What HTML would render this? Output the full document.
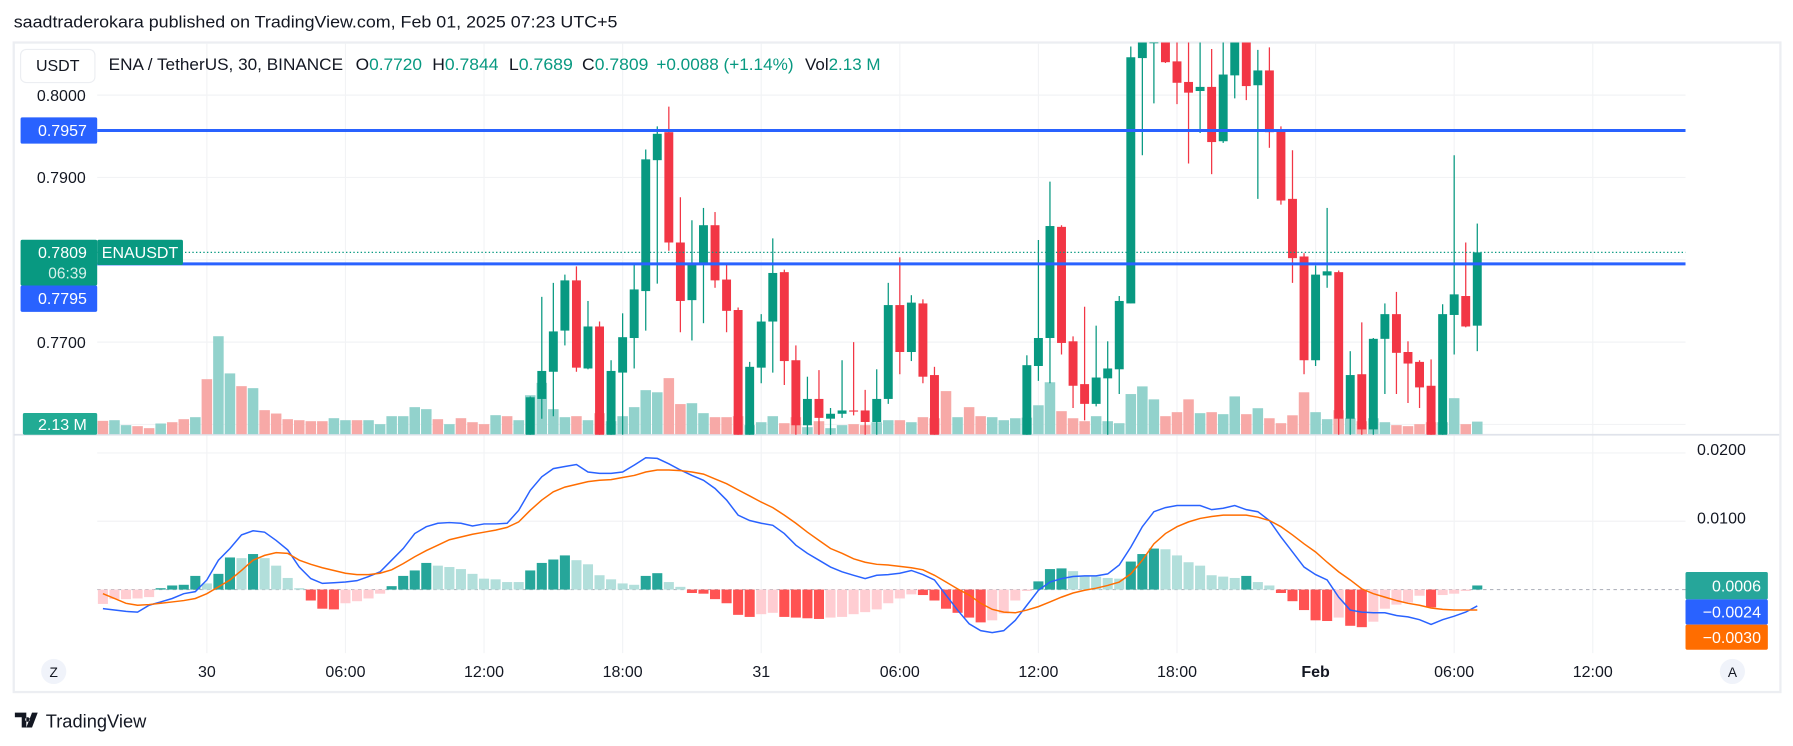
<!DOCTYPE html>
<html><head><meta charset="utf-8">
<style>
html,body{margin:0;padding:0;background:#fff;}
svg{display:block;font-family:"Liberation Sans",sans-serif;}
</style></head>
<body>
<svg id="chart" width="1793" height="746" viewBox="0 0 1568 652" xmlns="http://www.w3.org/2000/svg">
<text x="12" y="24" font-size="14.5" fill="#131722" textLength="528" lengthAdjust="spacingAndGlyphs">saadtraderokara published on TradingView.com, Feb 01, 2025 07:23 UTC+5</text>
<rect x="12" y="37" width="1545" height="568" fill="#fff" stroke="#eceef2" stroke-width="2"/>
<g id="grid"></g>
<line x1="12" y1="380" x2="1556" y2="380" stroke="#e0e3eb" stroke-width="1.5"/>
<defs>
<clipPath id="pclip"><rect x="85" y="37" width="1389" height="343"/></clipPath>
<clipPath id="mclip"><rect x="85" y="381" width="1389" height="190"/></clipPath>
</defs>
<g id="vol" clip-path="url(#pclip)"></g>
<g id="candles" clip-path="url(#pclip)"></g>
<g id="levels"></g>
<g id="macd" clip-path="url(#mclip)"></g>
<g id="labels"></g>
<rect x="18" y="43" width="65" height="29" rx="5" fill="#fff" stroke="#eceef2"/>
<text x="50.5" y="62" font-size="14" text-anchor="middle" fill="#131722">USDT</text>
<g font-size="14.5">
<text x="95" y="61" fill="#131722" textLength="205" lengthAdjust="spacingAndGlyphs">ENA / TetherUS, 30, BINANCE</text>
<text x="311" y="61" fill="#131722" textLength="58" lengthAdjust="spacingAndGlyphs">O<tspan fill="#089981">0.7720</tspan></text>
<text x="378" y="61" fill="#131722" textLength="58" lengthAdjust="spacingAndGlyphs">H<tspan fill="#089981">0.7844</tspan></text>
<text x="445" y="61" fill="#131722" textLength="56" lengthAdjust="spacingAndGlyphs">L<tspan fill="#089981">0.7689</tspan></text>
<text x="509" y="61" fill="#131722" textLength="58" lengthAdjust="spacingAndGlyphs">C<tspan fill="#089981">0.7809</tspan></text>
<text x="574" y="61" fill="#089981" textLength="120" lengthAdjust="spacingAndGlyphs">+0.0088 (+1.14%)</text>
<text x="704" y="61" fill="#131722" textLength="66" lengthAdjust="spacingAndGlyphs">Vol<tspan fill="#089981">2.13 M</tspan></text>
</g>
<circle cx="47" cy="587" r="11" fill="#f0f3fa"/>
<text x="47" y="592" font-size="12" text-anchor="middle" fill="#131722">Z</text>
<circle cx="1515" cy="587" r="11" fill="#f0f3fa"/>
<text x="1515" y="592" font-size="12" text-anchor="middle" fill="#131722">A</text>
<g>
<path d="M13 623h10v13h-4v-9h-6z M24 627a2 2 0 1 0 0.1 0z M28 623h5l-5 13h-5z" fill="#131722"/>
<text x="40" y="636" font-size="16" fill="#131722">TradingView</text>
</g>
</svg>
<script>
// ---- price data (30m candles) ----
const opens=[0.7530,0.7510,0.7520,0.7525,0.7518,0.7512,0.7522,0.7515,0.7505,0.7515,0.7480,0.7540,0.7555,0.7530,0.7550,0.7535,0.7525,0.7515,0.7508,0.7502,0.7498,0.7505,0.7510,0.7505,0.7512,0.7518,0.7528,0.7538,0.7550,0.7558,0.7550,0.7555,0.7548,0.7543,0.7540,0.7552,0.7548,
0.7580,0.7631,0.7664,0.7714,0.7775,0.7668,0.7719,0.7570,0.7663,0.7705,0.7762,0.7921,0.7955,0.7821,0.7751,0.7795,0.7842,0.7776,0.7739,0.7565,0.7669,0.7725,0.7785,0.7678,0.7599,0.7631,0.7607,0.7613,0.7617,0.7617,0.7603,0.7631,0.7745,0.7688,0.7747,0.7660,0.7550,0.7520,0.7535,0.7515,0.7505,0.7520,0.7535,0.7560,0.7671,0.7705,0.7840,0.7701,0.7649,0.7625,0.7656,0.7667,0.7747,0.8045,0.8063,0.8080,0.8041,0.8016,0.8005,0.8010,0.7944,0.8024,0.8075,0.8012,0.8030,0.7957,0.7874,0.7804,0.7678,0.7781,0.7785,0.7607,0.7661,0.7594,0.7704,0.7734,0.7688,0.7676,0.7647,0.7578,0.7733,0.7756,0.7720];
const closes=[0.7510,0.7520,0.7525,0.7518,0.7512,0.7522,0.7515,0.7505,0.7515,0.7480,0.7540,0.7555,0.7530,0.7550,0.7535,0.7525,0.7515,0.7508,0.7502,0.7498,0.7505,0.7510,0.7505,0.7512,0.7518,0.7528,0.7538,0.7550,0.7558,0.7550,0.7555,0.7548,0.7543,0.7540,0.7552,0.7548,0.7560,
0.7633,0.7665,0.7713,0.7775,0.7669,0.7719,0.7575,0.7665,0.7706,0.7764,0.7922,0.7953,0.7821,0.7750,0.7796,0.7842,0.7775,0.7738,0.7560,0.7670,0.7725,0.7784,0.7677,0.7599,0.7631,0.7608,0.7613,0.7617,0.7616,0.7603,0.7631,0.7745,0.7688,0.7748,0.7658,0.7550,0.7520,0.7535,0.7515,0.7505,0.7520,0.7535,0.7555,0.7672,0.7705,0.7841,0.7699,0.7647,0.7625,0.7657,0.7668,0.7750,0.8046,0.8064,0.8068,0.8040,0.8015,0.8003,0.8010,0.7943,0.8025,0.8075,0.8011,0.8030,0.7955,0.7872,0.7802,0.7678,0.7782,0.7786,0.7607,0.7660,0.7594,0.7704,0.7734,0.7687,0.7674,0.7645,0.7575,0.7734,0.7758,0.7719,0.7809];
const highs=[0.7538,0.7522,0.7532,0.7533,0.7526,0.7530,0.7530,0.7523,0.7523,0.7523,0.7548,0.7563,0.7563,0.7558,0.7558,0.7543,0.7533,0.7523,0.7516,0.7510,0.7513,0.7518,0.7518,0.7520,0.7526,0.7536,0.7546,0.7558,0.7566,0.7566,0.7563,0.7563,0.7556,0.7551,0.7560,0.7560,0.7568,
0.7634,0.7755,0.7772,0.7782,0.7792,0.7750,0.7725,0.7678,0.7735,0.7794,0.7934,0.7962,0.7986,0.7876,0.7848,0.7863,0.7858,0.7795,0.7742,0.7676,0.7734,0.7826,0.7788,0.7696,0.7658,0.7666,0.7620,0.7678,0.7700,0.7642,0.7667,0.7772,0.7803,0.7757,0.7752,0.7670,0.7558,0.7543,0.7543,0.7523,0.7528,0.7543,0.7563,0.7684,0.7824,0.7895,0.7842,0.7707,0.7743,0.7720,0.7701,0.7756,0.8059,0.8070,0.8075,0.8085,0.8080,0.8080,0.8075,0.8056,0.8070,0.8085,0.8085,0.8055,0.8058,0.7962,0.7933,0.7808,0.7793,0.7863,0.7787,0.7689,0.7724,0.7705,0.7747,0.7761,0.7701,0.7678,0.7679,0.7746,0.7927,0.7821,0.7844];
const lows=[0.7500,0.7500,0.7510,0.7508,0.7502,0.7502,0.7505,0.7495,0.7495,0.7470,0.7470,0.7530,0.7520,0.7520,0.7525,0.7515,0.7505,0.7498,0.7492,0.7488,0.7488,0.7495,0.7495,0.7495,0.7502,0.7508,0.7518,0.7528,0.7540,0.7540,0.7540,0.7538,0.7533,0.7530,0.7530,0.7538,0.7538,
0.7575,0.7607,0.7610,0.7696,0.7664,0.7667,0.7560,0.7560,0.7585,0.7668,0.7714,0.7771,0.7811,0.7712,0.7702,0.7723,0.7766,0.7712,0.7550,0.7550,0.7650,0.7663,0.7648,0.7580,0.7580,0.7580,0.7580,0.7608,0.7611,0.7580,0.7580,0.7625,0.7661,0.7677,0.7650,0.7540,0.7510,0.7510,0.7505,0.7495,0.7495,0.7510,0.7525,0.7550,0.7653,0.7650,0.7685,0.7620,0.7605,0.7622,0.7580,0.7637,0.7747,0.7927,0.7990,0.8039,0.7989,0.7917,0.7954,0.7904,0.7942,0.7996,0.7994,0.7874,0.7936,0.7867,0.7772,0.7661,0.7671,0.7766,0.7580,0.7580,0.7580,0.7580,0.7637,0.7637,0.7626,0.7620,0.7570,0.7575,0.7685,0.7718,0.7689];
const volumes=[2.26,2.37,1.53,1.36,1.02,1.81,2.03,2.54,2.88,9.32,16.6,10.3,8.14,7.8,4.07,3.5,2.54,2.37,2.2,2.2,2.71,2.37,2.37,2.37,1.7,3.05,3.05,4.58,4.24,2.54,1.7,2.71,2.03,1.7,3.22,3.05,2.37,6.6,8.7,4.24,2.88,3.05,2.37,3.56,2.2,3.05,4.58,7.46,7.1,9.5,5.1,5.25,3.56,2.88,2.88,3.05,1.53,2.03,3.05,1.86,2.88,1.19,2.2,1.02,1.53,1.7,1.53,2.03,2.37,2.37,2.03,2.88,2.7,7.3,2.88,4.58,3.05,2.88,2.37,2.7,2.8,4.9,8.8,3.9,2.7,2.2,3.05,2.2,1.86,6.8,8.1,5.9,3.05,3.73,5.9,3.56,3.73,3.39,6.4,3.39,4.4,2.7,1.86,3.2,7.1,3.73,2.54,4.07,2.7,2.2,2.7,2.03,1.53,1.36,1.7,2.03,2.03,6.1,1.7,2.13];
// ---- MACD data ----
const histValues=[-0.0021,-0.0014,-0.0014,-0.0013,-0.0011,0.0002,0.0006,0.0007,0.0020,0.0009,
0.0023,0.0047,0.0046,0.0052,0.0046,0.0035,0.0017,0.0002,-0.0016,-0.0028,
-0.0029,-0.0020,-0.0017,-0.0013,-0.0006,0.0005,0.0020,0.0028,0.0039,0.0035,
0.0033,0.0030,0.0023,0.0016,0.0015,0.0011,0.0011,0.0028,0.0039,0.0044,
0.0050,0.0043,0.0037,0.0021,0.0015,0.0009,0.0007,0.0020,0.0024,0.0011,
0.0004,-0.0005,-0.0006,-0.0014,-0.0020,-0.0037,-0.0040,-0.0036,-0.0034,-0.0040,
-0.0041,-0.0042,-0.0043,-0.0041,-0.0040,-0.0036,-0.0033,-0.0029,-0.0020,-0.0013,
-0.0007,-0.0008,-0.0016,-0.0028,-0.0034,-0.0041,-0.0048,-0.0045,-0.0035,-0.0016,
-0.0002,0.0012,0.0030,0.0031,0.0027,0.0020,0.0019,0.0017,0.0016,0.0041,
0.0052,0.0060,0.0059,0.0050,0.0040,0.0035,0.0021,0.0019,0.0017,0.0020,
0.0011,0.0006,-0.0005,-0.0017,-0.0030,-0.0045,-0.0046,-0.0041,-0.0053,-0.0055,
-0.0047,-0.0028,-0.0022,-0.0019,-0.0009,-0.0026,-0.0008,-0.0006,-0.0002,0.0006];
const macdValues=[-0.0028,-0.0030,-0.0032,-0.0033,-0.0023,-0.0018,-0.0013,-0.0006,-0.0003,0.0014,
0.0043,0.0060,0.0080,0.0086,0.0084,0.0072,0.0058,0.0033,0.0016,0.0009,
0.0010,0.0011,0.0013,0.0019,0.0026,0.0043,0.0060,0.0082,0.0092,0.0097,
0.0098,0.0097,0.0093,0.0096,0.0096,0.0097,0.0116,0.0145,0.0165,0.0177,
0.0180,0.0183,0.0172,0.0170,0.0170,0.0172,0.0182,0.0193,0.0192,0.0184,
0.0175,0.0167,0.0160,0.0148,0.0131,0.0109,0.0101,0.0097,0.0094,0.0082,
0.0065,0.0053,0.0043,0.0033,0.0026,0.0021,0.0016,0.0021,0.0022,0.0024,
0.0028,0.0022,0.0014,-0.0008,-0.0030,-0.0050,-0.0060,-0.0063,-0.0060,-0.0045,
-0.0023,-0.0001,0.0011,0.0016,0.0019,0.0020,0.0020,0.0023,0.0036,0.0062,
0.0092,0.0114,0.0120,0.0123,0.0123,0.0123,0.0117,0.0119,0.0123,0.0117,
0.0114,0.0101,0.0077,0.0055,0.0033,0.0022,0.0014,-0.0011,-0.0030,-0.0033,
-0.0034,-0.0034,-0.0038,-0.0040,-0.0044,-0.0051,-0.0044,-0.0039,-0.0033,-0.0024];
const signalValues=[-0.0006,-0.0013,-0.0020,-0.0023,-0.0022,-0.0020,-0.0018,-0.0016,-0.0013,-0.0006,
0.0004,0.0014,0.0028,0.0043,0.0050,0.0054,0.0053,0.0043,0.0037,0.0032,
0.0028,0.0024,0.0022,0.0022,0.0024,0.0029,0.0038,0.0048,0.0057,0.0065,
0.0073,0.0077,0.0081,0.0084,0.0087,0.0091,0.0099,0.0116,0.0131,0.0143,
0.0150,0.0154,0.0158,0.0160,0.0161,0.0164,0.0167,0.0172,0.0175,0.0175,
0.0174,0.0172,0.0169,0.0162,0.0155,0.0146,0.0137,0.0128,0.0120,0.0109,
0.0097,0.0084,0.0072,0.0060,0.0053,0.0045,0.0040,0.0037,0.0036,0.0034,
0.0032,0.0029,0.0021,0.0011,0.0001,-0.0008,-0.0020,-0.0029,-0.0033,-0.0034,
-0.0030,-0.0025,-0.0018,-0.0011,-0.0005,-0.0001,0.0002,0.0006,0.0011,0.0023,
0.0043,0.0067,0.0082,0.0092,0.0099,0.0104,0.0107,0.0109,0.0109,0.0109,
0.0106,0.0101,0.0092,0.0080,0.0067,0.0055,0.0040,0.0026,0.0014,0.0001,
-0.0006,-0.0011,-0.0016,-0.0020,-0.0023,-0.0027,-0.0029,-0.0030,-0.0030,-0.0030];
// ---- axis ticks ----
const priceTicks=[0.8000,0.7900,0.7800,0.7700,0.7600];
const priceTickLabels=["0.8000","0.7900","","0.7700",""];
const macdTicks=[0.0200,0.0100];
const macdTickLabels=["0.0200","0.0100"];
const timeTickIndex=[9,21,33,45,57,69,81,93,105,117,129];
const timeTickLabels=["30","06:00","12:00","18:00","31","06:00","12:00","18:00","Feb","06:00","12:00"];
const levelPrices=[0.7957,0.7795];
const levelLabels=["0.7957","0.7795"];

const NS="http://www.w3.org/2000/svg";
const xOf=i=>90+i*10.1;
const yP=p=>83+(0.8-p)*7200;
const yV=v=>379.5-v*5.16;
const yM=v=>515.4-v*5976;
function mk(tag,attrs,parent){const e=document.createElementNS(NS,tag);for(const k in attrs)e.setAttribute(k,attrs[k]);parent.appendChild(e);return e;}
const G=id=>document.getElementById(id);

const grid=G('grid');
timeTickIndex.forEach((ti,k)=>{
  const x=xOf(ti);
  const l=mk('line',{x1:x,y1:38,x2:x,y2:571,stroke:'#f2f3f5','stroke-width':1},grid);
  
  
  const t=mk('text',{x:x,y:592,'font-size':14,'text-anchor':'middle',fill:'#131722','font-weight':timeTickLabels[k]==='Feb'?'bold':'normal'},G('labels'));
  t.textContent=timeTickLabels[k];
  
  
});
priceTicks.forEach((p,k)=>{
  const y=yP(p);
  const l=mk('line',{x1:85,y1:y,x2:1474,y2:y,stroke:'#f2f3f5','stroke-width':1},grid);
  
  
  if(priceTickLabels[k]){
    const t=mk('text',{x:75,y:y+5,'font-size':14,'text-anchor':'end',fill:'#131722'},G('labels'));
    t.textContent=priceTickLabels[k];
    
    
  }
});
macdTicks.forEach((v,k)=>{
  const y=yM(v);
  const l=mk('line',{x1:85,y1:y,x2:1474,y2:y,stroke:'#f2f3f5','stroke-width':1},grid);
  
  
  const t=mk('text',{x:1484,y:y+2,'font-size':14,fill:'#131722'},G('labels'));
  t.textContent=macdTickLabels[k];
  
  
});

const vg=G('vol');
volumes.forEach((v,i)=>{
  const up=closes[i]>=opens[i];
  const r=mk('rect',{x:xOf(i)-4.6,y:yV(v),width:9.2,height:379.5-yV(v),fill:up?'#92d2cc':'#f7a9a7'},vg);
  
  
});
const cg=G('candles');
opens.forEach((o,i)=>{
  const c=closes[i],up=c>=o,col=up?'#089981':'#f23645',x=xOf(i);
  const w=mk('line',{x1:x,y1:yP(highs[i]),x2:x,y2:yP(lows[i]),stroke:col,'stroke-width':1.1},cg);
  
  
  const top=yP(Math.max(o,c)),bot=yP(Math.min(o,c));
  const b=mk('rect',{x:x-3.9,y:top,width:7.8,height:Math.max(1,bot-top),fill:col},cg);
  
  
});
const lg=G('levels');
const lastY=yP(closes[closes.length-1]);
const dl=mk('line',{x1:85,y1:lastY,x2:1474,y2:lastY,stroke:'#089981','stroke-width':1,'stroke-dasharray':'1.2,2'},lg);


levelPrices.forEach((p,k)=>{
  const y=yP(p);
  const l=mk('line',{x1:85,y1:y,x2:1474,y2:y,stroke:'#2962ff','stroke-width':2.6},lg);
  
  
});
function box(x,y,w,h,fill,name){const r=mk('rect',{x:x,y:y,width:w,height:h,fill:fill,rx:1.5},G('labels'));return r;}
function txt(x,y,s,str,name,anchor,col){const t=mk('text',{x:x,y:y,'font-size':s,fill:col||'#fff','text-anchor':anchor||'end'},G('labels'));t.textContent=str;return t;}
box(18,yP(levelPrices[0])-11.5,67,23,'#2962ff','level-price-tag');
txt(76,yP(levelPrices[0])+5,14,levelLabels[0],'level-price-text');
box(18,lastY-11,67,40,'#089981','last-price-tag');
txt(76,lastY+5,14,'0.7809','last-price-text');
txt(76,lastY+23,13.5,'06:39','countdown-text',null,'#d6f0ea');
box(85,lastY-11,75,22,'#089981','symbol-tag');
txt(89,lastY+5,14,'ENAUSDT','symbol-tag-text','start');
box(18,lastY+29,67,23,'#2962ff','level-price-tag-2');
txt(76,lastY+45,14,levelLabels[1],'level-price-text-2');
box(20,361,65,19,'#22ab94','volume-tag');
txt(76,376,14,'2.13 M','volume-tag-text');

const mg=G('macd');
const z=mk('line',{x1:85,y1:yM(0),x2:1474,y2:yM(0),stroke:'#b2b5be','stroke-width':1,'stroke-dasharray':'3,3'},mg);


histValues.forEach((v,i)=>{
  const prev=i>0?histValues[i-1]:v;
  let col;
  if(v>=0)col=v>prev?'#26a69a':'#b2dfdb';else col=v<prev?'#ff5252':'#ffcdd2';
  const y0=yM(0),y1=yM(v);
  const r=mk('rect',{x:xOf(i)-4.4,y:Math.min(y0,y1),width:8.8,height:Math.abs(y1-y0),fill:col},mg);
  
  
});
function line(vals,col,name){
  const d=vals.map((v,i)=>(i?'L':'M')+xOf(i).toFixed(1)+' '+yM(v).toFixed(1)).join(' ');
  const p=mk('path',{d:d,fill:'none',stroke:col,'stroke-width':1.3},mg);
  
  
}
line(macdValues,'#2962ff','macd-line');
line(signalValues,'#ff6d00','signal-line');
box(1474,500,72,24,'#26a69a','histogram-value-tag');
txt(1540,517,14,'0.0006','histogram-value-text');
box(1474,524,72,22,'#2962ff','macd-value-tag');
txt(1540,540,14,'\u22120.0024','macd-value-text');
box(1474,546,72,22,'#ff6d00','signal-value-tag');
txt(1540,562,14,'\u22120.0030','signal-value-text');
</script>
</body></html>
